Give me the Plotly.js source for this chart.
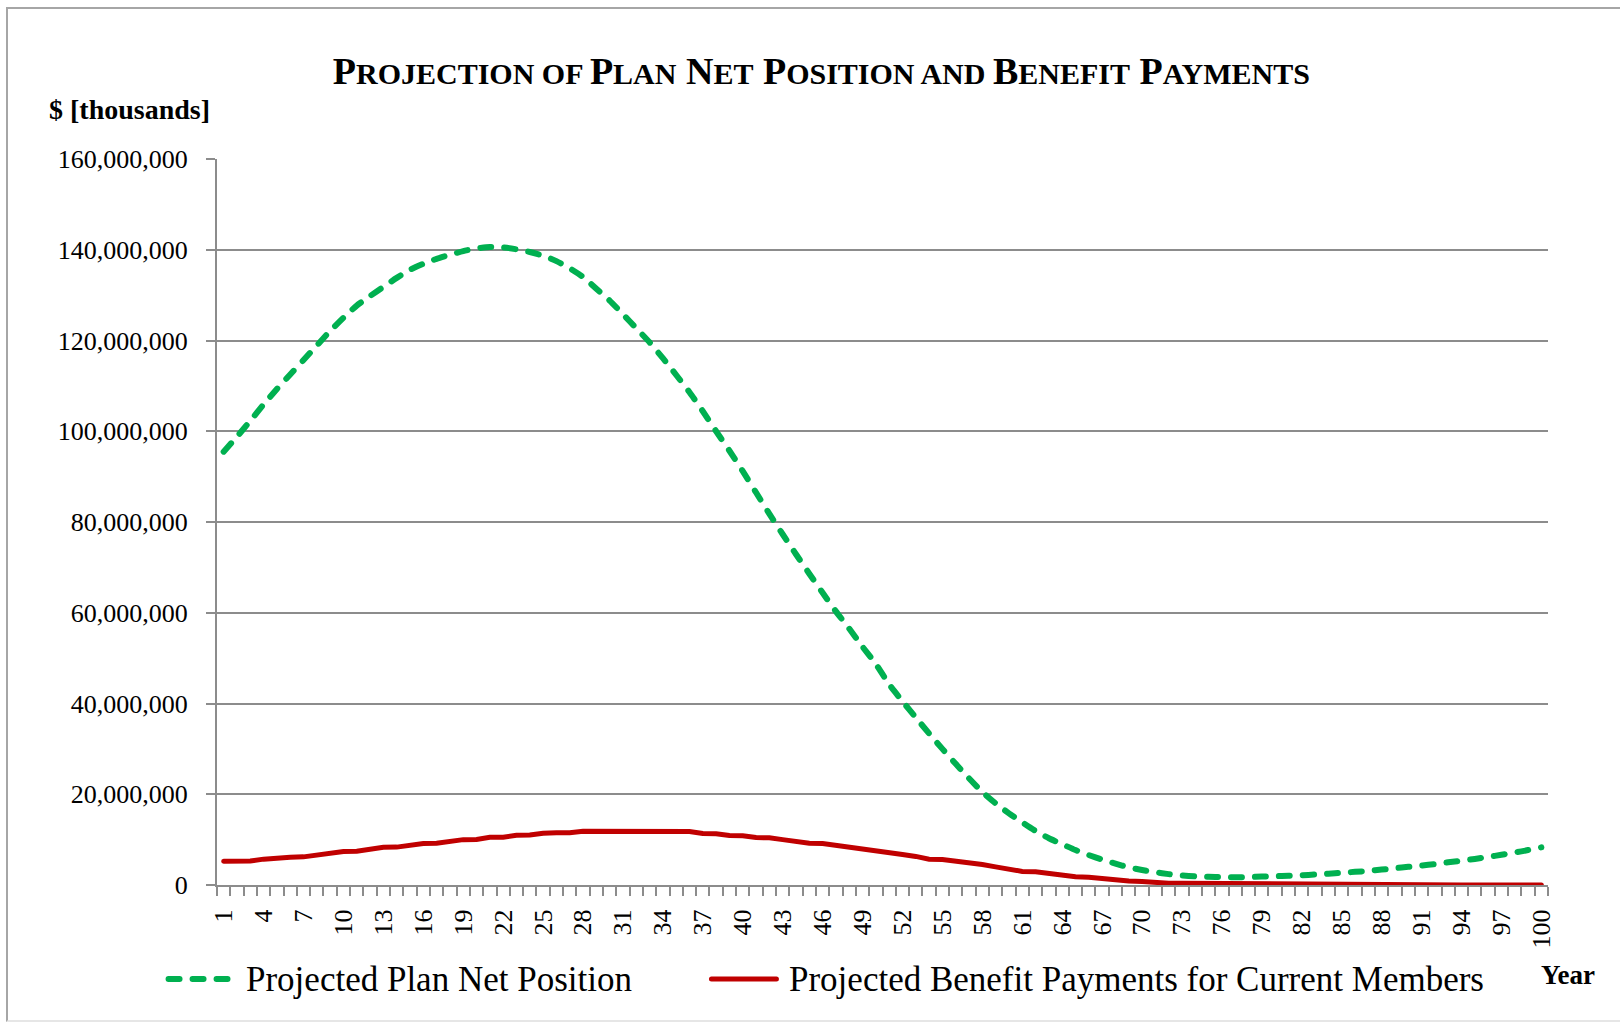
<!DOCTYPE html>
<html>
<head>
<meta charset="utf-8">
<script src="https://cdn.plot.ly/plotly-3.0.1.min.js"></script>
<style>
  html, body { margin: 0; padding: 0; background: #ffffff; }
  #chart { width: 1620px; height: 1025px; }
  .js-line, .shapelayer path { stroke-linecap: round; }
  #frame { position: absolute; left: 6px; top: 7px; width: 1640px; height: 1015px;
           border-left: 2px solid #a6a6a6; border-top: 2px solid #a6a6a6; border-bottom: 2px solid #e6e6e6;
           pointer-events: none; box-sizing: border-box; }
</style>
</head>
<body>
<div id="chart"></div>
<div id="frame"></div>
<script>
// Projection years (categories)
var years = [1,2,3,4,5,6,7,8,9,10,11,12,13,14,15,16,17,18,19,20,
  21,22,23,24,25,26,27,28,29,30,31,32,33,34,35,36,37,38,39,40,
  41,42,43,44,45,46,47,48,49,50,51,52,53,54,55,56,57,58,59,60,
  61,62,63,64,65,66,67,68,69,70,71,72,73,74,75,76,77,78,79,80,
  81,82,83,84,85,86,87,88,89,90,91,92,93,94,95,96,97,98,99,100];

// Projected Plan Net Position, $ thousands
var netPosition = [95500000,98800000,102300000,105900000,109300000,112500000,115700000,118900000,122100000,125000000,
  127700000,129800000,131800000,133800000,135600000,136900000,138000000,138900000,139700000,140300000,
  140600000,140500000,140100000,139500000,138700000,137500000,135900000,134000000,131400000,128800000,
  125800000,122700000,119600000,116100000,112400000,108600000,104400000,100000000,95700000,91200000,
  86500000,81800000,77300000,72900000,68600000,64400000,60300000,56500000,52500000,48700000,
  44200000,40500000,36900000,33400000,30000000,26700000,23500000,20500000,18000000,15800000,
  13800000,11900000,10300000,9000000,7700000,6600000,5600000,4700000,3900000,3300000,
  2800000,2400000,2100000,1900000,1800000,1750000,1700000,1750000,1850000,1950000,
  2050000,2150000,2300000,2500000,2700000,2900000,3100000,3400000,3700000,4000000,
  4300000,4600000,5000000,5350000,5750000,6200000,6650000,7150000,7700000,8300000];

// Projected Benefit Payments for Current Members, $ thousands
var benefitPayments = [5250000,5250000,5300000,5700000,5770000,6100000,6200000,6600000,7000000,7400000,
  7450000,7900000,8300000,8350000,8800000,9150000,9200000,9600000,10000000,10050000,
  10500000,10550000,10950000,11000000,11400000,11500000,11500000,11850000,11860000,11860000,
  11860000,11860000,11860000,11860000,11860000,11800000,11350000,11300000,10900000,10850000,
  10450000,10400000,10000000,9600000,9200000,9150000,8700000,8300000,7900000,7500000,
  7100000,6700000,6300000,5700000,5600000,5300000,4800000,4500000,4000000,3600000,
  3000000,2900000,2500000,2100000,1800000,1700000,1350000,1250000,900000,750000,
  450000,400000,380000,360000,300000,120000,90000,80000,70000,65000,
  60000,55000,50000,46000,42000,38000,35000,32000,29000,26000,
  24000,22000,20000,18000,16000,14000,12000,11000,10000,9000];

// Labelled years on the category axis
var xTickYears = [1,4,7,10,13,16,19,22,25,28,31,34,37,40,43,46,49,52,55,58,61,64,67,70,73,76,79,82,85,88,91,94,97,100];
var xTickLabels = ["1","4","7","10","13","16","19","22","25","28","31","34","37","40","43","46","49","52","55","58","61","64","67","70","73","76","79","82","85","88","91","94","97","100"];
var yTickVals = [0,20000000,40000000,60000000,80000000,100000000,120000000,140000000,160000000];
var yTickLabels = ["0","20,000,000","40,000,000","60,000,000","80,000,000","100,000,000","120,000,000","140,000,000","160,000,000"];

var seriesNames = ["Projected Plan Net Position", "Projected Benefit Payments for Current Members"];
var seriesColors = ["#00b050", "#c00000"];

// boundaries between categories for tick marks
var boundaries = years.map(function (y) { return y - 0.5; }).concat([years[years.length - 1] + 0.5]);

var SERIF = "'Liberation Serif', 'Times New Roman', serif";
var GRID = "#8c8c8c";
var GREEN_DASH = "11px,13px";

var traces = [
  {
    x: years, y: netPosition, name: seriesNames[0], type: "scatter", mode: "lines",
    line: { color: seriesColors[0], width: 6, dash: GREEN_DASH, shape: "spline", smoothing: 0.6 },
    hoverinfo: "skip", showlegend: false
  },
  {
    x: years, y: benefitPayments, name: seriesNames[1], type: "scatter", mode: "lines",
    line: { color: seriesColors[1], width: 5 },
    hoverinfo: "skip", showlegend: false
  }
];

function smallCaps(word) {
  return word.charAt(0) + '<span style="font-size:30px">' + word.slice(1).toUpperCase() + '</span>';
}
var titleText = '<b>' + smallCaps("Projection") + '<span style="font-size:30px"> OF </span>' +
  smallCaps("Plan") + ' ' + smallCaps("Net") + ' ' + smallCaps("Position") +
  '<span style="font-size:30px"> AND </span>' + smallCaps("Benefit") + ' ' + smallCaps("Payments") + '</b>';

// legend drawn below the plot (positions in paper units)
var LEG_Y = -0.1295;
var legendShapes = [
  { type: "line", xref: "paper", yref: "paper", x0: -0.0364, x1: 0.0079, y0: LEG_Y, y1: LEG_Y,
    line: { color: seriesColors[0], width: 6, dash: GREEN_DASH } },
  { type: "line", xref: "paper", yref: "paper", x0: 0.3715, x1: 0.4203, y0: LEG_Y, y1: LEG_Y,
    line: { color: seriesColors[1], width: 5 } }
];
var legendLabels = [
  { text: seriesNames[0], xref: "paper", yref: "paper", x: 0.0203, y: LEG_Y, xanchor: "left", yanchor: "middle",
    showarrow: false, font: { family: SERIF, size: 35, color: "#000000" } },
  { text: seriesNames[1], xref: "paper", yref: "paper", x: 0.4283, y: LEG_Y, xanchor: "left", yanchor: "middle",
    showarrow: false, font: { family: SERIF, size: 35, color: "#000000" } }
];

var layout = {
  width: 1620, height: 1025,
  paper_bgcolor: "#ffffff", plot_bgcolor: "#ffffff",
  margin: { l: 217, r: 72, t: 159, b: 140, pad: 0 },
  font: { family: SERIF, color: "#000000", size: 26 },
  title: {
    text: titleText,
    font: { family: SERIF, size: 38, color: "#000000" },
    x: 0.507, xref: "container", xanchor: "center",
    y: 0.931, yref: "container", yanchor: "middle"
  },
  showlegend: false,
  xaxis: {
    type: "linear", range: [0.5, 100.5], fixedrange: true,
    tickmode: "array", tickvals: xTickYears, ticktext: xTickLabels,
    tickangle: -90, ticks: "", ticklabelstandoff: 12,
    tickfont: { family: SERIF, size: 26, color: "#000000" },
    showgrid: false, zeroline: false,
    showline: true, linecolor: GRID, linewidth: 2,
    minor: { tickmode: "array", tickvals: boundaries, ticks: "outside", ticklen: 9, tickwidth: 2, tickcolor: GRID, showgrid: false }
  },
  yaxis: {
    range: [0, 160000000], fixedrange: true,
    tickmode: "array", tickvals: yTickVals, ticktext: yTickLabels,
    ticks: "outside", ticklen: 9, tickwidth: 2, tickcolor: GRID,
    ticklabelstandoff: 13,
    tickfont: { family: SERIF, size: 26, color: "#000000" },
    showgrid: true, gridcolor: GRID, gridwidth: 2,
    zeroline: false, showline: true, linecolor: GRID, linewidth: 2
  },
  shapes: legendShapes,
  annotations: [
    { text: "<b>$ [thousands]</b>", xref: "paper", yref: "paper", x: -0.1275, y: 1.0675,
      xanchor: "left", yanchor: "middle", showarrow: false, font: { family: SERIF, size: 28, color: "#000000" } },
    { text: "<b>Year</b>", xref: "paper", yref: "paper", x: 0.9935, y: -0.124,
      xanchor: "left", yanchor: "middle", showarrow: false, font: { family: SERIF, size: 27, color: "#000000" } }
  ].concat(legendLabels)
};

Plotly.newPlot("chart", traces, layout, { staticPlot: true, displayModeBar: false });
</script>
</body>
</html>
